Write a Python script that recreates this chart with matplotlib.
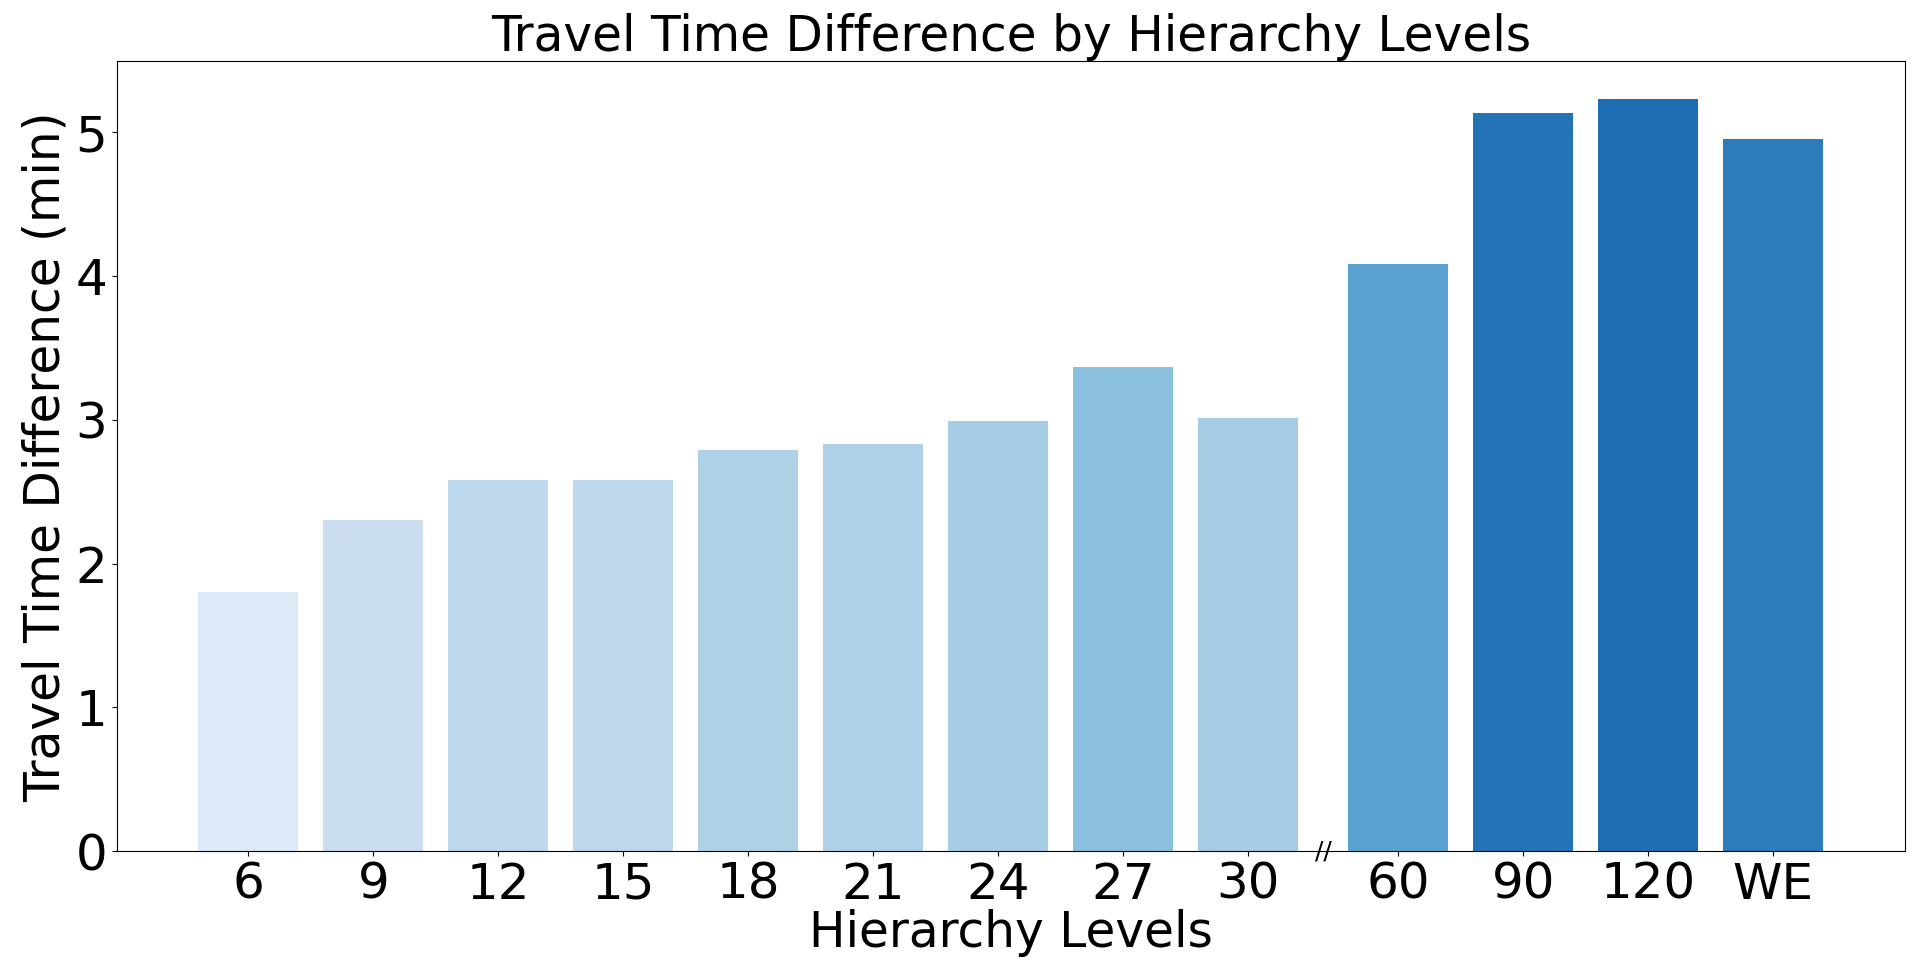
import matplotlib
matplotlib.use("Agg")
import matplotlib.pyplot as plt
import numpy as np

# Hierarchy levels and measured travel time differences (min)
levels = ["6", "9", "12", "15", "18", "21", "24", "27", "30", "60", "90", "120", "WE"]
time_diff = [1.80, 2.30, 2.58, 2.58, 2.79, 2.83, 2.99, 3.37, 3.01, 4.08, 5.13, 5.23, 4.95]

# extra space inserted before the "60" bar (axis break)
gap = 0.2
positions = [i if i < 9 else i + gap for i in range(len(levels))]

# colour each bar by its value on the Blues colormap
vals = np.array(time_diff)
shade = 0.14 + 0.62 * (vals - vals.min()) / (vals.max() - vals.min())
colors = plt.cm.Blues(shade)

fig, ax = plt.subplots(figsize=(19.2, 9.75), dpi=100)
ax.bar(positions, time_diff, width=0.8, color=colors)

ax.set_xticks(positions)
ax.set_xticklabels(levels)
ax.tick_params(axis="both", labelsize=36)

# break marker between 30 and 60
ax.text((positions[8] + positions[9]) / 2, 0, "//", ha="center", va="center",
        fontsize=18, clip_on=False)

ax.set_xlabel("Hierarchy Levels", fontsize=35, labelpad=0)
ax.set_ylabel("Travel Time Difference (min)", fontsize=35)
ax.set_title("Travel Time Difference by Hierarchy Levels", fontsize=35)

plt.subplots_adjust(left=0.061, right=0.992, top=0.937, bottom=0.127)
plt.savefig("out.png", dpi=100)
